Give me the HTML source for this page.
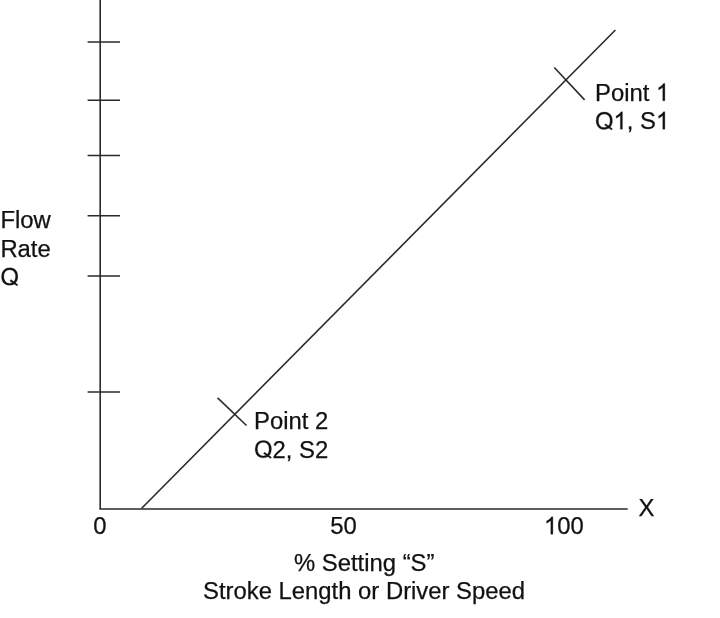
<!DOCTYPE html>
<html>
<head>
<meta charset="utf-8">
<style>
html,body{margin:0;padding:0;background:#fff;}
body{width:720px;height:618px;overflow:hidden;}
svg{display:block;will-change:transform;}
text{font-family:"Liberation Sans", sans-serif;font-size:23.85px;fill:#111;stroke:#111;stroke-width:0.25px;}
.h{fill:transparent;stroke:none;}
.g{fill:#111;stroke:#111;stroke-width:21.5;}
</style>
</head>
<body>
<svg width="720" height="618" viewBox="0 0 720 618">
<defs>
<path id="one" d="M763 0H583V1147Q518 1085 412 1023Q306 961 221 930V1104Q372 1175 485 1276Q598 1377 645 1466H763Z"/>
<path id="qq" d="M1495 711Q1495 490 1410.5 324.0Q1326 158 1168.0 69.0Q1010 -20 795 -20Q578 -20 420.5 68.0Q263 156 180.0 322.5Q97 489 97 711Q97 1049 282.0 1239.5Q467 1430 797 1430Q1012 1430 1170.0 1344.5Q1328 1259 1411.5 1096.0Q1495 933 1495 711ZM1300 711Q1300 974 1168.5 1124.0Q1037 1274 797 1274Q555 1274 423.0 1126.0Q291 978 291 711Q291 446 424.5 290.5Q558 135 795 135Q1039 135 1169.5 285.5Q1300 436 1300 711ZM810 340L910 455L1500 30L1430 -75Z"/>
</defs>
<g stroke="#2a2a2a" stroke-width="1.6" fill="none">
<line x1="100.2" y1="0" x2="100.2" y2="509"/>
<line x1="99.4" y1="509" x2="627.7" y2="509"/>
<line x1="87.6" y1="42" x2="120" y2="42"/>
<line x1="87.6" y1="100.2" x2="120" y2="100.2"/>
<line x1="87.6" y1="155.5" x2="120" y2="155.5"/>
<line x1="87.6" y1="215.8" x2="120" y2="215.8"/>
<line x1="87.6" y1="276" x2="120" y2="276"/>
<line x1="87.6" y1="392" x2="120" y2="392"/>
<line x1="141.5" y1="508.5" x2="615.4" y2="30.0"/>
<line x1="554.3" y1="67.5" x2="584.6" y2="99.9"/>
<line x1="217.6" y1="397.9" x2="246.5" y2="425.5"/>
</g>
<text id="t0" x="0.4" y="228">Flow</text>
<text id="t1" x="0.4" y="256.5">Rate</text>
<text id="t2" x="0.4" y="285"><tspan class="h">Q</tspan></text>
<text id="t3" x="595" y="100.8">Point <tspan class="h">1</tspan></text>
<text id="t4" x="595" y="129.2"><tspan class="h">Q</tspan><tspan class="h">1</tspan>, S<tspan class="h">1</tspan></text>
<text id="t5" x="254" y="429.2">Point 2</text>
<text id="t6" x="254" y="457.6"><tspan class="h">Q</tspan>2, S2</text>
<text id="t7" x="93.3" y="534.2">0</text>
<text id="t8" x="330.3" y="534.2">50</text>
<text id="t9" x="544" y="534.2"><tspan class="h">1</tspan>00</text>
<text id="t10" x="638.5" y="516">X</text>
<text id="t11" x="294" y="570.6">% Setting “S”</text>
<text id="t12" x="203" y="598.6">Stroke Length or Driver Speed</text>
<use href="#qq" class="g" transform="translate(0.40 285.00) scale(0.011646 -0.011995)"/>
<use href="#one" class="g" transform="translate(655.98 100.80) scale(0.011646 -0.011878)"/>
<use href="#qq" class="g" transform="translate(595.00 129.20) scale(0.011646 -0.011995)"/>
<use href="#one" class="g" transform="translate(613.55 129.20) scale(0.011646 -0.011878)"/>
<use href="#one" class="g" transform="translate(655.97 129.20) scale(0.011646 -0.011878)"/>
<use href="#qq" class="g" transform="translate(254.00 457.60) scale(0.011646 -0.011995)"/>
<use href="#one" class="g" transform="translate(544.00 534.20) scale(0.011646 -0.011878)"/>
</svg>
</body>
</html>
